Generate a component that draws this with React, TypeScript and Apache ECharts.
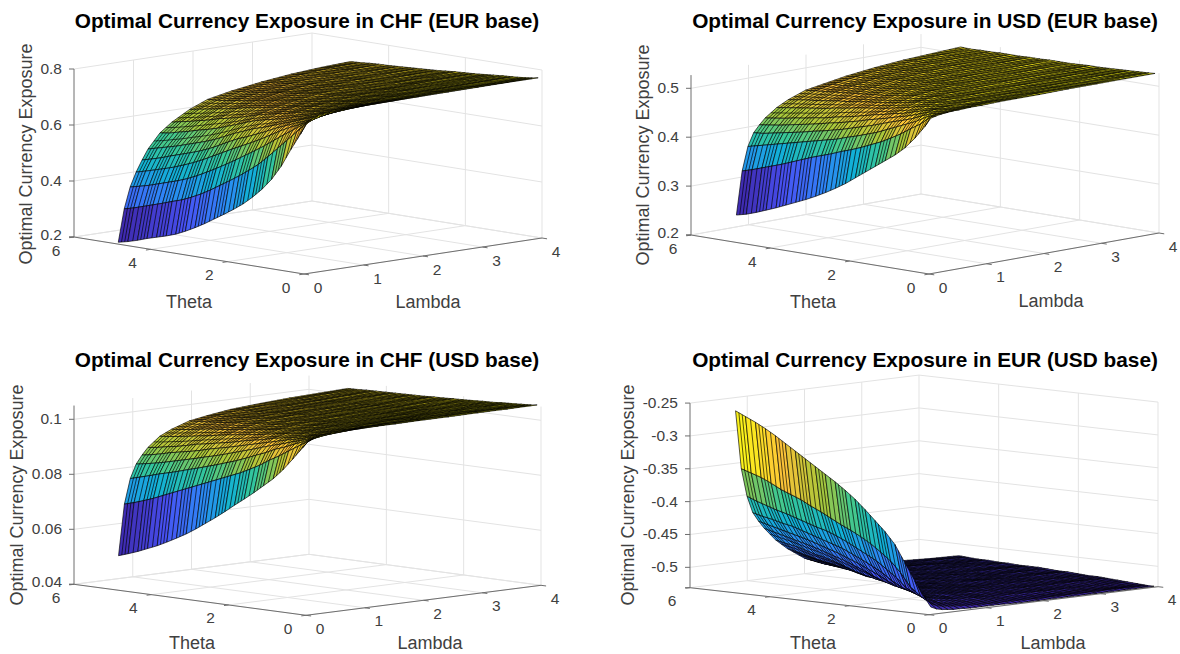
import React, { useEffect, useRef } from "react";
import * as echarts from "echarts";

// Values at a coarser grid than the original mesh.
// Each table cell is drawn once; straight hatch lines inside a cell only imitate the reference's
// denser mesh as a texture, they add no values.
const thetaValues = [0.1, 0.25, 0.5, 0.75, 1, 1.25, 1.5, 1.75, 2, 2.25, 2.5, 2.75, 3, 3.25, 3.5, 3.75, 4, 4.25, 4.5, 4.75, 5];
const lambdaValues = [0.1, 0.2, 0.3, 0.4, 0.5, 0.6, 0.8, 1, 1.3, 1.6, 2, 2.5, 3, 3.5, 4];
const thetaTicks = [0, 2, 4, 6];
const lambdaTicks = [0, 1, 2, 3, 4];

const chfEurValues = [
  [.728,.746,.753,.757,.759,.76,.762,.764,.765,.766,.767,.768,.769,.77,.77],
  [.69,.725,.735,.741,.746,.749,.753,.756,.759,.76,.762,.764,.765,.765,.766],
  [.63,.69,.712,.722,.728,.733,.74,.746,.751,.753,.756,.759,.76,.761,.762],
  [.565,.655,.688,.703,.713,.721,.73,.736,.742,.747,.751,.754,.756,.758,.759],
  [.513,.62,.665,.688,.70,.71,.721,.728,.735,.741,.746,.75,.753,.755,.757],
  [.472,.585,.64,.67,.686,.696,.71,.72,.729,.735,.741,.746,.749,.752,.754],
  [.438,.552,.615,.65,.672,.685,.702,.713,.723,.73,.736,.743,.746,.749,.751],
  [.408,.525,.592,.63,.655,.672,.69,.705,.718,.725,.732,.738,.743,.746,.748],
  [.383,.50,.57,.612,.64,.66,.683,.697,.711,.72,.728,.734,.739,.743,.746],
  [.36,.477,.548,.595,.625,.65,.675,.69,.705,.715,.724,.73,.736,.74,.744],
  [.338,.455,.527,.578,.612,.636,.667,.683,.698,.71,.72,.728,.733,.737,.741],
  [.316,.433,.507,.56,.595,.622,.655,.675,.693,.705,.717,.725,.73,.735,.738],
  [.296,.413,.488,.542,.577,.606,.642,.665,.687,.70,.713,.722,.728,.732,.736],
  [.278,.396,.47,.524,.56,.59,.63,.655,.68,.695,.708,.718,.726,.73,.734],
  [.262,.381,.454,.508,.546,.577,.618,.647,.675,.69,.704,.715,.723,.728,.732],
  [.25,.37,.441,.494,.534,.566,.608,.64,.667,.684,.70,.712,.72,.726,.73],
  [.24,.358,.43,.481,.523,.555,.60,.63,.66,.679,.695,.708,.718,.724,.728],
  [.23,.347,.419,.47,.512,.544,.59,.622,.654,.674,.69,.705,.715,.722,.727],
  [.218,.336,.408,.46,.50,.535,.582,.614,.648,.669,.686,.702,.713,.72,.725],
  [.208,.325,.399,.45,.49,.526,.573,.607,.642,.664,.682,.698,.71,.718,.722],
  [.2,.316,.391,.441,.481,.517,.568,.60,.636,.662,.679,.695,.707,.715,.72],
];

const usdEurValues = [
  [.515,.518,.52,.521,.522,.522,.523,.523,.524,.524,.524,.525,.525,.525,.525],
  [.496,.513,.516,.517,.518,.519,.52,.521,.522,.522,.523,.523,.523,.524,.524],
  [.469,.496,.508,.513,.515,.516,.517,.518,.519,.52,.521,.522,.522,.523,.523],
  [.446,.483,.496,.505,.51,.513,.515,.516,.518,.518,.519,.52,.521,.522,.522],
  [.428,.469,.487,.496,.503,.508,.513,.515,.516,.517,.518,.519,.52,.521,.521],
  [.413,.457,.478,.489,.496,.502,.509,.513,.515,.516,.517,.518,.519,.52,.52],
  [.398,.446,.469,.483,.491,.496,.505,.51,.514,.515,.516,.517,.518,.519,.519],
  [.383,.437,.46,.476,.485,.492,.5,.507,.512,.514,.515,.517,.517,.518,.519],
  [.368,.428,.453,.469,.48,.487,.496,.503,.509,.513,.515,.516,.517,.517,.518],
  [.353,.42,.446,.463,.475,.483,.492,.499,.507,.511,.514,.515,.516,.517,.517],
  [.34,.413,.44,.457,.469,.478,.489,.496,.504,.509,.513,.515,.516,.516,.517],
  [.328,.405,.433,.451,.464,.473,.486,.493,.501,.507,.511,.514,.515,.516,.517],
  [.317,.398,.428,.446,.459,.469,.483,.491,.498,.505,.51,.513,.515,.516,.516],
  [.307,.391,.423,.441,.455,.465,.479,.488,.496,.502,.508,.512,.514,.515,.516],
  [.298,.383,.418,.437,.45,.46,.476,.485,.494,.5,.507,.511,.514,.515,.515],
  [.289,.375,.413,.432,.446,.457,.472,.483,.492,.498,.505,.51,.513,.514,.515],
  [.28,.367,.408,.428,.442,.453,.469,.48,.49,.496,.503,.509,.512,.514,.515],
  [.272,.36,.403,.424,.438,.45,.466,.477,.488,.494,.501,.507,.511,.513,.514],
  [.264,.353,.398,.42,.434,.446,.463,.475,.486,.492,.499,.506,.51,.513,.514],
  [.257,.346,.393,.416,.431,.443,.46,.472,.484,.491,.498,.504,.509,.512,.513],
  [.252,.34,.388,.414,.428,.44,.457,.469,.482,.488,.496,.503,.508,.511,.514],
];

const chfUsdValues = [
  [.1027,.1037,.1042,.1045,.1047,.1048,.1049,.105,.1051,.1051,.1052,.1052,.1053,.1053,.1054],
  [.1,.1022,.103,.1034,.1037,.1039,.1042,.1045,.1047,.1048,.1049,.105,.1051,.1051,.1051],
  [.0955,.1,.1014,.1022,.1027,.103,.1034,.1037,.104,.1042,.1045,.1047,.1048,.1048,.1049],
  [.0912,.0978,.1,.101,.1017,.1022,.1028,.1031,.1035,.1038,.1041,.1043,.1045,.1046,.1047],
  [.0875,.0955,.0985,.1,.1008,.1014,.1022,.1027,.1031,.1034,.1037,.104,.1042,.1044,.1045],
  [.0845,.0935,.0972,.0988,.1,.1006,.1016,.1022,.1028,.1031,.1034,.1037,.1039,.1041,.1042],
  [.0815,.0912,.0955,.0978,.0991,.1,.101,.1017,.1024,.1028,.1031,.1035,.1037,.1039,.1041],
  [.0787,.0893,.0941,.0967,.0982,.0994,.1005,.1012,.102,.1025,.1029,.1032,.1035,.1037,.1039],
  [.076,.0875,.0926,.0955,.0973,.0985,.1,.1008,.1016,.1022,.1027,.103,.1033,.1035,.1037],
  [.0732,.086,.0912,.0944,.0964,.0978,.0994,.1004,.1013,.1019,.1025,.1028,.1031,.1034,.1036],
  [.0705,.0845,.09,.0933,.0955,.0971,.0988,.1,.1009,.1016,.1022,.1027,.103,.1032,.1034],
  [.068,.083,.0888,.0922,.0946,.0962,.0983,.0995,.1006,.1013,.1019,.1025,.1028,.1031,.1033],
  [.0655,.0815,.0877,.0912,.0938,.0955,.0978,.0991,.1003,.101,.1017,.1023,.1027,.1029,.1031],
  [.0632,.08,.0866,.0903,.093,.0948,.0973,.0987,.1,.1008,.1015,.1021,.1025,.1028,.103],
  [.0612,.0785,.0856,.0893,.092,.0941,.0967,.0982,.0996,.1005,.1012,.1019,.1024,.1027,.1029],
  [.0593,.077,.0845,.0884,.0912,.0935,.096,.0978,.0993,.1002,.101,.1017,.1022,.1026,.1028],
  [.0575,.0755,.0835,.0875,.0905,.0926,.0955,.0975,.099,.1,.1008,.1015,.102,.1024,.1027],
  [.056,.074,.0826,.0866,.0898,.0918,.0949,.0969,.0986,.0996,.1005,.1013,.1018,.1023,.1026],
  [.0545,.0727,.0815,.0858,.0889,.0912,.0944,.0964,.0983,.0994,.1004,.1011,.1017,.1021,.1025],
  [.0532,.0715,.0805,.0851,.0881,.0905,.0939,.0959,.098,.0991,.1002,.1009,.1015,.102,.1023],
  [.052,.0705,.0795,.0845,.0875,.09,.0935,.0955,.0977,.0988,.1,.1008,.1014,.1018,.1022],
];

const eurUsdValues = [
  [-.521,-.525,-.527,-.528,-.529,-.529,-.53,-.53,-.53,-.531,-.531,-.531,-.531,-.531,-.531],
  [-.508,-.518,-.522,-.524,-.525,-.526,-.527,-.528,-.529,-.529,-.53,-.53,-.53,-.53,-.531],
  [-.484,-.508,-.515,-.518,-.521,-.522,-.524,-.525,-.526,-.527,-.528,-.529,-.529,-.53,-.53],
  [-.458,-.496,-.508,-.513,-.516,-.518,-.521,-.523,-.524,-.526,-.526,-.527,-.528,-.529,-.529],
  [-.432,-.476,-.5,-.508,-.512,-.515,-.518,-.521,-.522,-.524,-.525,-.526,-.527,-.527,-.528],
  [-.414,-.46,-.486,-.502,-.508,-.511,-.516,-.518,-.521,-.522,-.524,-.525,-.526,-.526,-.527],
  [-.399,-.448,-.475,-.494,-.504,-.508,-.513,-.516,-.519,-.521,-.522,-.524,-.525,-.526,-.526],
  [-.384,-.437,-.464,-.483,-.497,-.505,-.51,-.514,-.517,-.52,-.522,-.523,-.524,-.525,-.526],
  [-.37,-.428,-.456,-.475,-.489,-.5,-.508,-.512,-.516,-.518,-.521,-.522,-.523,-.524,-.525],
  [-.358,-.42,-.448,-.467,-.482,-.494,-.505,-.51,-.515,-.517,-.52,-.521,-.523,-.523,-.524],
  [-.347,-.413,-.44,-.46,-.475,-.487,-.502,-.508,-.513,-.516,-.518,-.521,-.522,-.523,-.524],
  [-.337,-.405,-.433,-.453,-.469,-.481,-.498,-.505,-.511,-.514,-.517,-.52,-.522,-.522,-.523],
  [-.327,-.397,-.427,-.448,-.463,-.475,-.494,-.504,-.509,-.513,-.516,-.518,-.521,-.522,-.522],
  [-.317,-.39,-.423,-.443,-.458,-.47,-.488,-.5,-.508,-.512,-.515,-.518,-.52,-.521,-.522],
  [-.307,-.382,-.418,-.438,-.453,-.465,-.483,-.496,-.505,-.51,-.514,-.517,-.519,-.521,-.522],
  [-.297,-.376,-.413,-.433,-.448,-.46,-.478,-.492,-.504,-.509,-.513,-.516,-.518,-.52,-.521],
  [-.287,-.37,-.408,-.428,-.444,-.456,-.475,-.489,-.502,-.508,-.512,-.515,-.517,-.519,-.521],
  [-.278,-.362,-.404,-.425,-.44,-.452,-.47,-.486,-.5,-.507,-.511,-.514,-.516,-.519,-.52],
  [-.27,-.355,-.399,-.421,-.436,-.448,-.466,-.482,-.498,-.506,-.51,-.514,-.516,-.518,-.52],
  [-.263,-.35,-.394,-.418,-.432,-.444,-.463,-.478,-.495,-.505,-.51,-.513,-.516,-.517,-.519],
  [-.256,-.345,-.388,-.414,-.428,-.44,-.46,-.475,-.493,-.504,-.508,-.512,-.515,-.517,-.518],
];

const zTicksChfEur = [0.2, 0.4, 0.6, 0.8];
const zLabelsChfEur = ["0.2", "0.4", "0.6", "0.8"];
const zTicksUsdEur = [0.2, 0.3, 0.4, 0.5];
const zLabelsUsdEur = ["0.2", "0.3", "0.4", "0.5"];
const zTicksChfUsd = [0.04, 0.06, 0.08, 0.1];
const zLabelsChfUsd = ["0.04", "0.06", "0.08", "0.1"];
const zTicksEurUsd = [-0.5, -0.45, -0.4, -0.35, -0.3, -0.25];
const zLabelsEurUsd = ["-0.5", "-0.45", "-0.4", "-0.35", "-0.3", "-0.25"];

const panels = [
  { title: "Optimal Currency Exposure in CHF (EUR base)", values: chfEurValues, zTicks: zTicksChfEur, zLabels: zLabelsChfEur,
    o: [74, 237], tv: [230, 37], lv: [238, -36], zMin: 0.2, zMax: 0.8, zScale: 280,
    titleAt: [307, 20], thetaAt: [189, 302], lambdaAt: [428, 302], zAt: [26, 154] },
  { title: "Optimal Currency Exposure in USD (EUR base)", values: usdEurValues, zTicks: zTicksUsdEur, zLabels: zLabelsUsdEur,
    o: [691, 235], tv: [238, 39], lv: [230, -41], zMin: 0.2, zMax: 0.527, zScale: 489,
    titleAt: [925, 20], thetaAt: [813, 302], lambdaAt: [1051, 301], zAt: [643, 155] },
  { title: "Optimal Currency Exposure in CHF (USD base)", values: chfUsdValues, zTicks: zTicksChfUsd, zLabels: zLabelsChfUsd,
    o: [74, 584.3], tv: [232, 31], lv: [235, -30], zMin: 0.04, zMax: 0.105, zScale: 2750,
    titleAt: [307, 359], thetaAt: [192, 643], lambdaAt: [430, 643], zAt: [17, 495] },
  { title: "Optimal Currency Exposure in EUR (USD base)", values: eurUsdValues, zTicks: zTicksEurUsd, zLabels: zLabelsEurUsd,
    o: [690, 587.7], tv: [239, 27], lv: [229, -28], zMin: -0.531, zMax: -0.25, zScale: 657,
    titleAt: [925, 359], thetaAt: [813, 643], lambdaAt: [1053, 643], zAt: [628, 495] },
];

const parulaStops = [
  [0.2422, 0.1504, 0.6603], [0.281, 0.3228, 0.9579], [0.1786, 0.5289, 0.9682], [0.0689, 0.6948, 0.8394],
  [0.2161, 0.7843, 0.5923], [0.672, 0.7793, 0.2227], [0.997, 0.7659, 0.2199], [0.9769, 0.9839, 0.0805],
];

function parula(v: number) {
  const s = Math.max(0, Math.min(1, v)) * (parulaStops.length - 1);
  const i = Math.min(parulaStops.length - 2, Math.floor(s));
  const f = s - i;
  return parulaStops[i].map((c, k) => c + (parulaStops[i + 1][k] - c) * f);
}

type Panel = (typeof panels)[number];

function project(p: Panel, theta: number, lambda: number, z: number) {
  const t = (6 - theta) / 6;
  const l = lambda / 4;
  return [
    p.o[0] + t * p.tv[0] + l * p.lv[0],
    p.o[1] + t * p.tv[1] + l * p.lv[1] - (z - p.zMin) * p.zScale,
  ];
}

const FONT = '"Liberation Sans", Arial, sans-serif';
const MESH_STEP = 0.1;

echarts.graphic.registerShape("cellHatch", echarts.graphic.extendShape({
  shape: { lines: [] as number[][] },
  buildPath(ctx: any, shape: any) {
    shape.lines.forEach((l: number[]) => {
      ctx.moveTo(l[0], l[1]);
      ctx.lineTo(l[2], l[3]);
    });
  },
}));

function surfaceSeries(p: Panel) {
  const flat = p.values.flat();
  const lo = Math.min(...flat);
  const hi = Math.max(...flat);
  const cells: number[][] = [];
  for (let i = thetaValues.length - 2; i >= 0; i--) {
    for (let j = lambdaValues.length - 2; j >= 0; j--) cells.push([i, j]);
  }
  return {
    type: "custom", coordinateSystem: "cartesian2d", xAxisIndex: 0, yAxisIndex: 0, silent: true, clip: false, z: 3,
    progressive: 0, encode: { x: 0, y: 1 }, data: cells,
    renderItem: (_: any, api: any) => {
      const i = api.value(0);
      const j = api.value(1);
      const corners = [[i, j], [i + 1, j], [i + 1, j + 1], [i, j + 1]];
      const points = corners.map(([a, b]) => api.coord(project(p, thetaValues[a], lambdaValues[b], p.values[a][b])));
      const stepsT = (thetaValues[i + 1] - thetaValues[i]) / MESH_STEP;
      const subT = i % 2 === 1 ? Math.ceil(stepsT - 0.01) : Math.floor(stepsT + 0.01);
      const subL = Math.ceil((lambdaValues[j + 1] - lambdaValues[j]) / MESH_STEP - 0.01);
      const mix = (a: number[], b: number[], f: number) => [a[0] + (b[0] - a[0]) * f, a[1] + (b[1] - a[1]) * f];
      const lines: number[][] = [];
      for (let k = 1; k < subT; k++) {
        const a = mix(points[0], points[1], k / subT);
        const b = mix(points[3], points[2], k / subT);
        lines.push([a[0], a[1], b[0], b[1]]);
      }
      for (let k = 1; k < subL; k++) {
        const a = mix(points[0], points[3], k / subL);
        const b = mix(points[1], points[2], k / subL);
        lines.push([a[0], a[1], b[0], b[1]]);
      }
      const rgb = parula((p.values[i][j] - lo) / (hi - lo)).map((c) => Math.round(c * 255));
      return {
        type: "group",
        children: [
          { type: "polygon", shape: { points },
            style: { fill: `rgb(${rgb.join(",")})`, stroke: "#000", lineWidth: 0.65, lineJoin: "round" } },
          { type: "cellHatch", shape: { lines }, style: { fill: "none", stroke: "#000", lineWidth: 0.65 } },
        ],
      };
    },
  };
}

type Seg = { a: number[]; b: number[]; color: string; w: number };

function segmentsFor(p: Panel) {
  const grid: Seg[] = [];
  const axis: Seg[] = [];
  const g = (a: number[], b: number[]) => grid.push({ a, b, color: "#e3e3e3", w: 1 });
  const ax = (a: number[], b: number[]) => axis.push({ a, b, color: "#6e6e6e", w: 1 });
  p.zTicks.forEach((z) => {
    g(project(p, 6, 0, z), project(p, 6, 4, z));
    g(project(p, 6, 4, z), project(p, 0, 4, z));
  });
  lambdaTicks.forEach((l) => {
    if (l > 0) g(project(p, 6, l, p.zMin), project(p, 6, l, p.zMax));
    g(project(p, 6, l, p.zMin), project(p, 0, l, p.zMin));
  });
  thetaTicks.forEach((t) => {
    if (t < 6) g(project(p, t, 4, p.zMin), project(p, t, 4, p.zMax));
    g(project(p, t, 0, p.zMin), project(p, t, 4, p.zMin));
  });
  ax(project(p, 6, 0, p.zMin), project(p, 6, 0, p.zMax));
  ax(project(p, 6, 0, p.zMin), project(p, 0, 0, p.zMin));
  ax(project(p, 0, 0, p.zMin), project(p, 0, 4, p.zMin));
  [p.zMin, ...p.zTicks].forEach((z) => {
    const q = project(p, 6, 0, z);
    ax(q, [q[0] - 5, q[1]]);
  });
  thetaTicks.forEach((t) => {
    const q = project(p, t, 0, p.zMin);
    ax(q, [q[0] - p.lv[0] * 0.02, q[1] - p.lv[1] * 0.02]);
  });
  lambdaTicks.forEach((l) => {
    const q = project(p, 0, l, p.zMin);
    ax(q, [q[0] + p.tv[0] * 0.022, q[1] + p.tv[1] * 0.022]);
  });
  return { grid, axis };
}

function segmentSeries(segs: Seg[], z: number) {
  return {
    type: "custom", coordinateSystem: "cartesian2d", xAxisIndex: 0, yAxisIndex: 0, silent: true, clip: false, z,
    progressive: 0, encode: { x: 0, y: 1 }, data: segs.map((_, i) => [i, 0]),
    renderItem: (_: any, api: any) => {
      const s = segs[api.value(0)];
      const a = api.coord(s.a);
      const b = api.coord(s.b);
      return {
        type: "line", shape: { x1: a[0], y1: a[1], x2: b[0], y2: b[1] },
        style: { stroke: s.color, lineWidth: s.w, fill: "none" },
      };
    },
  };
}

type Lab = { text: string; at: number[]; size: number; align: string; rotate?: number };

function labelsFor(p: Panel) {
  const out: Lab[] = [];
  p.zTicks.forEach((z, i) => {
    const q = project(p, 6, 0, z);
    const lift = z === p.zMin ? 3 : 0.5;
    out.push({ text: p.zLabels[i], at: [q[0] - 12, q[1] - lift], size: 15.5, align: "right" });
  });
  thetaTicks.forEach((t) => {
    const q = project(p, t, 0, p.zMin);
    out.push({ text: String(t), at: [q[0] - 18, q[1] + 13], size: 15.5, align: "center" });
  });
  lambdaTicks.forEach((l) => {
    const q = project(p, 0, l, p.zMin);
    out.push({ text: String(l), at: [q[0] + 14, q[1] + 13], size: 15.5, align: "center" });
  });
  out.push({ text: "Theta", at: p.thetaAt, size: 18, align: "center" });
  out.push({ text: "Lambda", at: p.lambdaAt, size: 18, align: "center" });
  out.push({ text: "Optimal Currency Exposure", at: p.zAt, size: 18, align: "center", rotate: Math.PI / 2 });
  return out;
}

function labelSeries(labs: Lab[]) {
  return {
    type: "custom", coordinateSystem: "cartesian2d", xAxisIndex: 0, yAxisIndex: 0, silent: true, clip: false, z: 5,
    progressive: 0, encode: { x: 0, y: 1 }, data: labs.map((_, i) => [i, 0]),
    renderItem: (_: any, api: any) => {
      const l = labs[api.value(0)];
      const c = api.coord(l.at);
      return {
        type: "text", x: c[0], y: c[1], rotation: l.rotate || 0,
        style: { text: l.text, fill: "#404040", fontFamily: FONT, fontSize: l.size, align: l.align, verticalAlign: "middle" },
      };
    },
  };
}

export default function App() {
  const ref = useRef<HTMLDivElement>(null);
  useEffect(() => {
    const chart = echarts.init(ref.current!, undefined, { renderer: "svg" });
    const series: any[] = [];
    panels.forEach((p) => {
      const { grid, axis } = segmentsFor(p);
      series.push(segmentSeries(grid, 1), segmentSeries(axis, 2), surfaceSeries(p), labelSeries(labelsFor(p)));
    });
    chart.setOption({
      animation: false,
      backgroundColor: "#ffffff",
      title: panels.map((p) => ({
        text: p.title, left: p.titleAt[0], top: p.titleAt[1] - 12, textAlign: "center",
        textStyle: { fontFamily: FONT, fontWeight: "bold", fontSize: 20.8, color: "#000", lineHeight: 24 }, padding: 0,
      })),
      grid: { left: 0, top: 0, width: 1180, height: 654, containLabel: false },
      xAxis: { type: "value", min: 0, max: 1180, show: false },
      yAxis: { type: "value", min: 0, max: 654, inverse: true, show: false },
      series,
    });
    return () => chart.dispose();
  }, []);
  return <div ref={ref} style={{ position: "fixed", left: 0, top: 0, width: 1180, height: 654 }} />;
}
